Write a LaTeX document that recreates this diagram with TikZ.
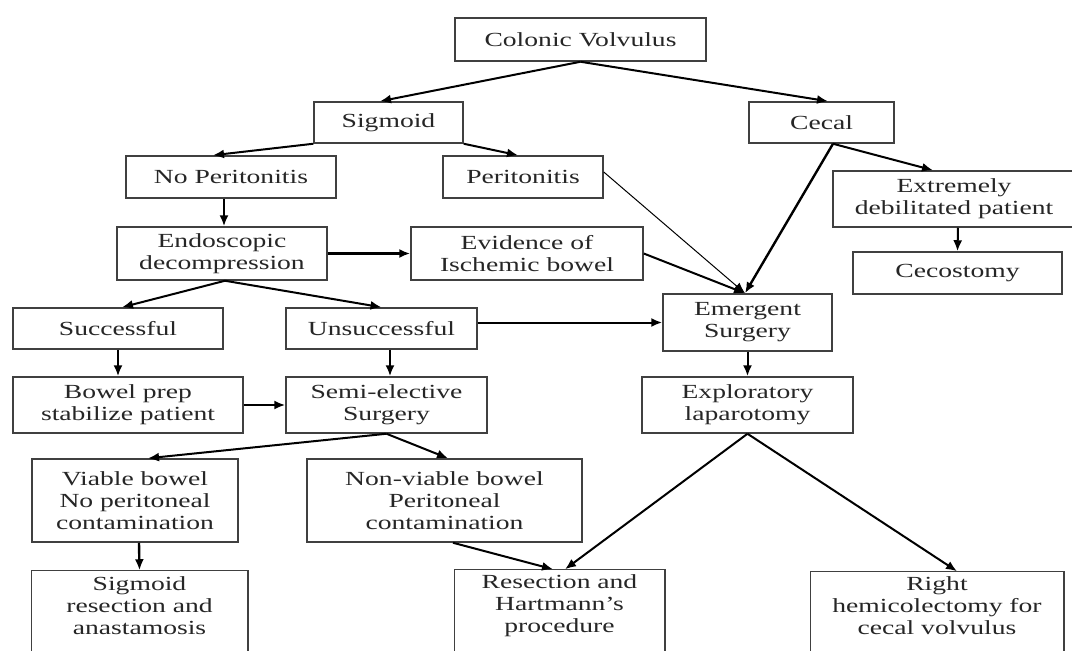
\documentclass[tikz,border=0pt]{standalone}
\usepackage{fontspec}
\setmainfont{Liberation Serif}[FakeStretch=1.38]
\usetikzlibrary{arrows.meta}
\begin{document}
\begin{tikzpicture}[x=1pt,y=-1pt,
  box/.style={draw=black!75, line width=1.5pt, inner sep=0pt, align=center,
    font=\fontsize{20}{22}\selectfont, text=black!85},
  openbox/.style={box, draw=none},
  boxline/.style={draw=black!75, line width=1.5pt},
  arr/.style={-{Latex[length=11pt,width=9pt]}, line width=2pt},
  thinarr/.style={-{Latex[length=11pt,width=9pt]}, line width=1pt}]
\useasboundingbox[fill=white] (0,0) rectangle (1072,651);

\node[box, minimum width=251pt, minimum height=43pt] (cv) at (580.5,39.5) {Colonic Volvulus};
\node[box, minimum width=149pt, minimum height=41pt] (sig) at (388.5,122.5) {Sigmoid};
\node[box, minimum width=145pt, minimum height=41pt] (cec) at (821.5,122.5) {Cecal};
\node[box, minimum width=210pt, minimum height=42pt] (nop) at (231,177) {No Peritonitis};
\node[box, minimum width=160pt, minimum height=42pt] (per) at (523,177) {Peritonitis};
\node[box, minimum width=242pt, minimum height=56pt] (ext) at (954,199) {Extremely\\debilitated patient};
\node[box, minimum width=209pt, minimum height=42pt] (ceco) at (957.5,273) {Cecostomy};
\node[box, minimum width=210pt, minimum height=53pt] (endo) at (222,253.5) {Endoscopic\\decompression};
\node[box, minimum width=232pt, minimum height=53pt] (evid) at (527,253.5) {Evidence of\\Ischemic bowel};
\node[box, minimum width=169pt, minimum height=57pt] (emer) at (747.5,322.5) {Emergent\\Surgery};
\node[box, minimum width=210pt, minimum height=41pt] (succ) at (118,328.5) {Successful};
\node[box, minimum width=191pt, minimum height=41pt] (unsucc) at (381.5,328.5) {Unsuccessful};
\node[box, minimum width=230pt, minimum height=56pt] (bowel) at (128,405) {Bowel prep\\stabilize patient};
\node[box, minimum width=201pt, minimum height=56pt] (semi) at (386.5,405) {Semi-elective\\Surgery};
\node[box, minimum width=211pt, minimum height=56pt] (expl) at (747.5,405) {Exploratory\\laparotomy};
\node[box, minimum width=206pt, minimum height=83pt] (viab) at (135,500.5) {Viable bowel\\No peritoneal\\contamination};
\node[box, minimum width=275pt, minimum height=83pt] (nonv) at (444.5,500.5) {Non-viable bowel\\Peritoneal\\contamination};
\node[openbox, minimum width=215pt, minimum height=70pt] (sres) at (139.5,606) {Sigmoid\\resection and\\anastamosis};
\node[openbox, minimum width=209pt, minimum height=72pt] (resec) at (559.5,606) {Resection and\\Hartmann's\\procedure};
\node[openbox, minimum width=252pt, minimum height=68pt] (right) at (937,606) {Right\\hemicolectomy for\\cecal volvulus};
\draw[boxline] (sres.north west) rectangle ([yshift=-30pt]sres.south east);
\draw[boxline] (resec.north west) rectangle ([yshift=-30pt]resec.south east);
\draw[boxline] (right.north west) rectangle ([yshift=-30pt]right.south east);

\draw[arr] (cv.south) -- ([xshift=-8.5pt]sig.north);
\draw[arr] (cv.south) -- ([xshift=6.5pt]cec.north);
\draw[arr] (sig.south west) -- ([xshift=-18pt]nop.north);
\draw[arr] (sig.south east) -- ([xshift=-5pt]per.north);
\draw[arr] ([xshift=-7pt]nop.south) -- ([xshift=2pt]endo.north);
\draw[arr, line width=2.4pt] (endo.east) -- (evid.west);
\draw[arr] ([xshift=3pt]endo.south) -- ([xshift=4pt]succ.north);
\draw[arr] ([xshift=3pt]endo.south) -- (unsucc.north);
\draw[thinarr] ([yshift=5pt]per.east) -- ([xshift=-2.5pt]emer.north);
\draw[arr] (evid.east) -- ([xshift=-2.5pt]emer.north);
\draw[arr, line width=2.4pt] ([xshift=11.5pt]cec.south) -- ([xshift=-2.5pt]emer.north);
\draw[arr] ([xshift=11.5pt]cec.south) -- ([xshift=-21pt]ext.north);
\draw[arr] ([xshift=4pt]ext.south) -- (ceco.north);
\draw[arr] ([yshift=6pt]unsucc.east) -- (emer.west);
\draw[arr] (succ.south) -- ([xshift=-10pt]bowel.north);
\draw[arr] ([xshift=8.5pt]unsucc.south) -- ([xshift=3.5pt]semi.north);
\draw[arr] (bowel.east) -- (semi.west);
\draw[arr] (emer.south) -- (expl.north);
\draw[arr] (semi.south) -- ([xshift=13pt]viab.north);
\draw[arr] (semi.south) -- ([xshift=3.5pt]nonv.north);
\draw[arr, line width=2.4pt] ([xshift=4pt]viab.south) -- (sres.north);
\draw[arr] ([xshift=8.5pt]nonv.south) -- ([xshift=-6.5pt]resec.north);
\draw[arr] (expl.south) -- ([xshift=5.5pt]resec.north);
\draw[arr] (expl.south) -- ([xshift=20pt]right.north);
\end{tikzpicture}
\end{document}
